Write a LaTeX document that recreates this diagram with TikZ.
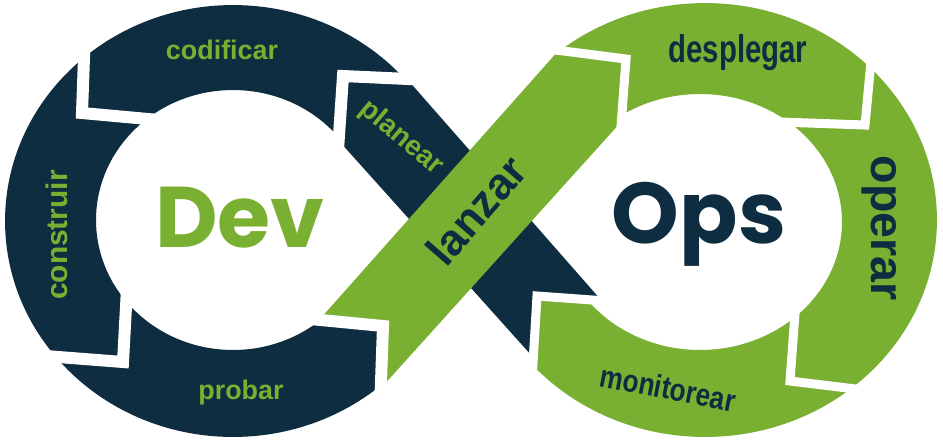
\documentclass[tikz,border=0pt]{standalone}
\usepackage{fontspec}
\setmainfont{Liberation Sans}
\newfontfamily\logofont{Poppins}
\definecolor{devNavy}{HTML}{0E2D41}
\definecolor{opsGreen}{HTML}{7AB032}
\tikzset{
  ringDev/.style={fill=devNavy, even odd rule},
  ringOps/.style={fill=opsGreen, even odd rule},
  gapDev/.style={draw=white, line width=0.24cm, line join=miter},
  gapOps/.style={draw=white, line width=0.18cm, line join=miter},
  stage/.style={inner sep=0pt, font=\fontsize{15.3pt}{16pt}\selectfont\bfseries},
  stageBig/.style={inner sep=0pt, font=\fontsize{25pt}{26pt}\selectfont\bfseries},
  stageOps/.style={inner sep=0pt, font=\fontsize{22pt}{23pt}\selectfont\bfseries},
  logo/.style={inner sep=0pt, font=\logofont\fontsize{49pt}{50pt}\selectfont\bfseries},
}

\begin{document}
\begin{tikzpicture}[x=0.02cm, y=-0.02cm]
\useasboundingbox (0,0) rectangle (943,441);

% ===================== Dev loop (left ring) ========================
\begin{scope}
  \clip (-20,-20) -- (430,-20) -- (430,80) -- (343,76) -- (338,150) -- (320,250)
        -- (300,318) -- (383,326) -- (380,470) -- (-20,470) -- cycle;
  \fill[ringDev] (233,221) ellipse (4.56cm and 4.32cm) (233,220) ellipse (2.74cm and 2.60cm);
\end{scope}

% ===================== Ops loop (right ring) =======================
\begin{scope}
  \clip (626,59) -- (540,48) -- (540,-20) -- (960,-20) -- (960,470) -- (532,470)
        -- (532,380) -- (537,296) -- (620,302) -- (620,140) -- cycle;
  \fill[ringOps] (705,220) ellipse (4.64cm and 4.34cm) (700,222) ellipse (2.84cm and 2.56cm);
\end{scope}

% the crossing: planear (under) and lanzar (over)
\fill[devNavy] (343,76) -- (407,79) -- (601,300) -- (537,296) -- (532,356) -- (340,142) -- cycle;
\fill[opsGreen] (320,319) -- (559,50) -- (626,59) -- (621,122) -- (381,388) -- (383,326) -- cycle;

% white notches between the stages
\draw[gapDev] (430,80) -- (343,76) -- (338,150);   % codificar | planear
\draw[gapDev] (85,30) -- (82,113) -- (170,121);    % codificar | construir
\draw[gapDev] (20,354) -- (123,362) -- (128,270);  % construir | probar
\draw[gapDev] (300,318) -- (383,326) -- (380,410); % probar | lanzar
\draw[gapOps] (540,48) -- (626,59) -- (620,140);   % lanzar | desplegar
\draw[gapOps] (873,40) -- (865,125) -- (780,122);  % desplegar | operar
\draw[gapOps] (880,392) -- (790,381) -- (796,300); % operar | monitorear
\draw[gapOps] (620,302) -- (537,296) -- (532,380); % monitorear | planear

% labels
\node[stage, opsGreen] (codificar) at (222,50) {codificar};
\node[stage, opsGreen, rotate=90, font=\fontsize{17pt}{18pt}\selectfont\bfseries] (construir) at (57,235) {construir};
\node[stage, opsGreen] (probar) at (241,393) {probar};
\node[stage, opsGreen, rotate=-40, font=\fontsize{16pt}{17pt}\selectfont\bfseries] (planear) at (401,138) {planear};
\node[stageBig, devNavy, rotate=49] (lanzar) at (476,210) {lanzar};
\node[stageOps, devNavy] (desplegar) at (738,53) {\scalebox{0.76}[1]{desplegar}};
\node[stageBig, devNavy, rotate=-90, font=\fontsize{26.5pt}{27pt}\selectfont\bfseries] (operar) at (879,228) {operar};
\node[stageOps, devNavy, rotate=-11, font=\fontsize{18pt}{19pt}\selectfont\bfseries] (monitorear) at (668,388) {\scalebox{0.83}[1]{monitorear}};
\node[logo, opsGreen] (dev) at (240,218) {Dev};
\node[logo, devNavy] (ops) at (699,224) {Ops};

\end{tikzpicture}
\end{document}
